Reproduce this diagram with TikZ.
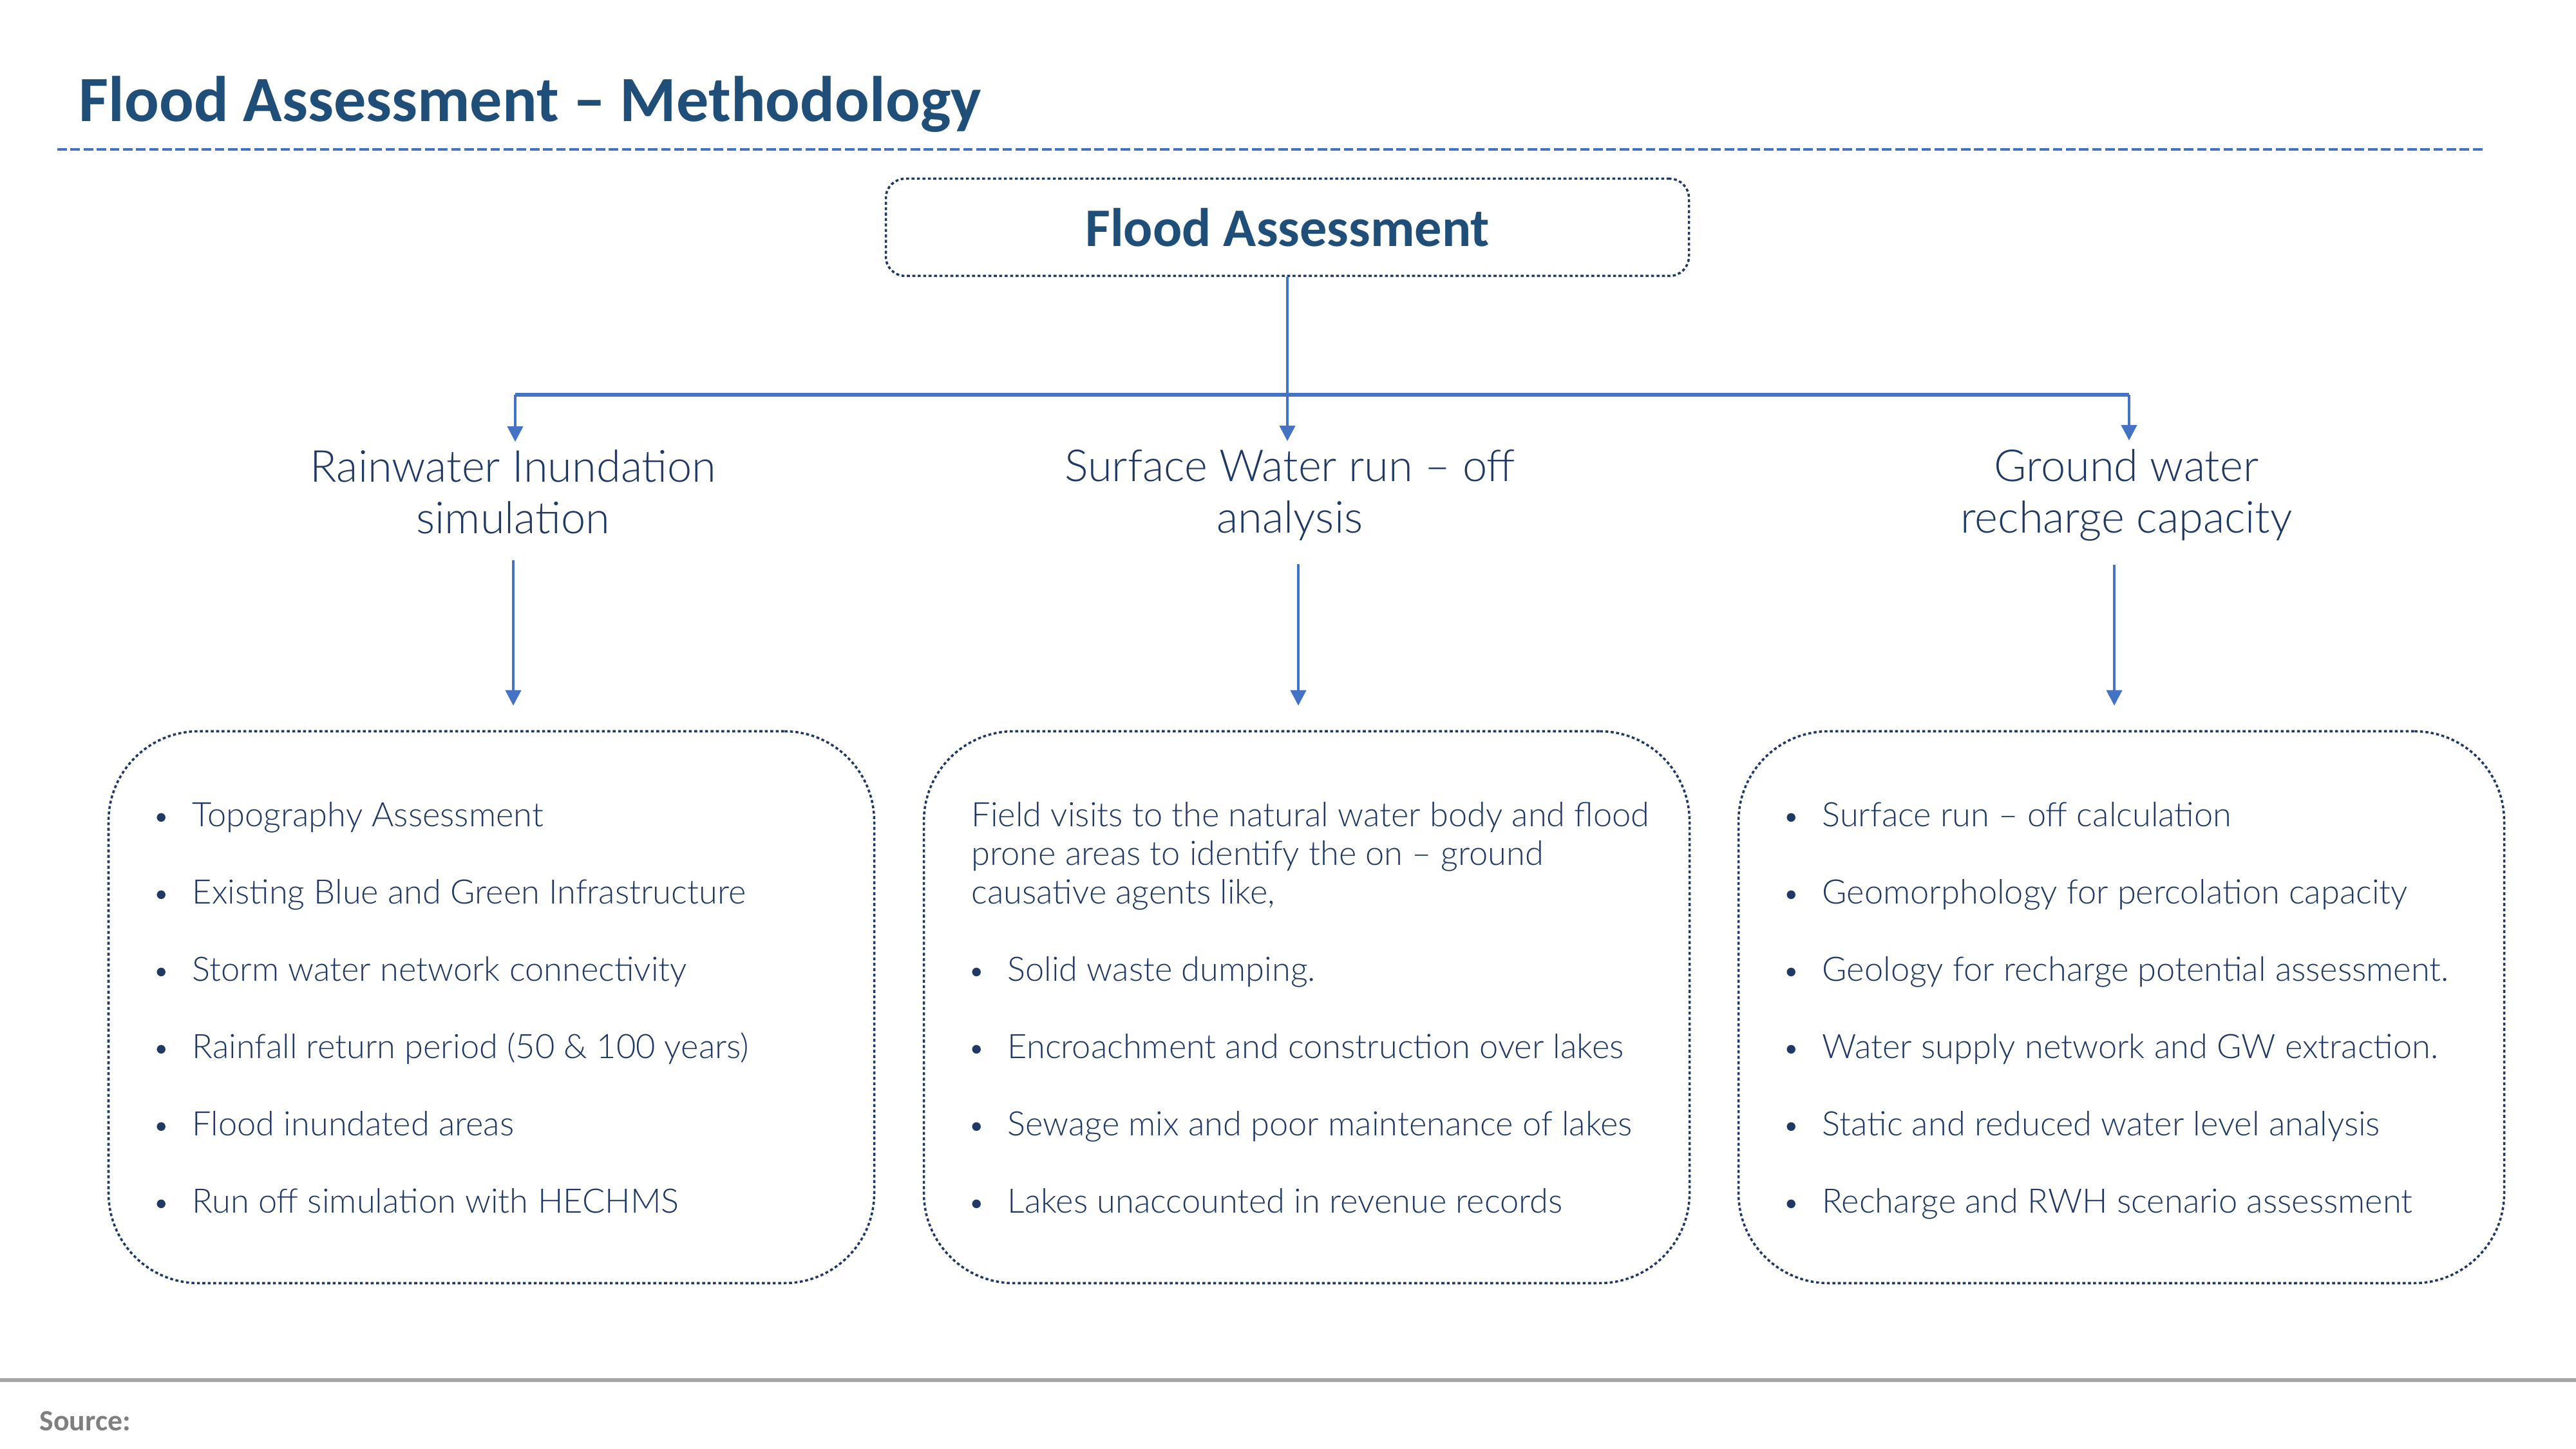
\documentclass[tikz,border=0pt]{standalone}
\usepackage{fontspec}
\usetikzlibrary{arrows.meta}
\newfontfamily\lightfont{Lato Light}
\newfontfamily\headfont{Carlito}
\definecolor{titleblue}{HTML}{1F4E79}
\definecolor{inkblue}{HTML}{1F3864}
\definecolor{lineblue}{HTML}{4472C4}
\definecolor{footgray}{HTML}{A6A6A6}
\definecolor{srcgray}{HTML}{7F7F7F}
\newcommand{\bitem}[1]{\llap{{\fontsize{13}{13}\selectfont\textbullet}\hspace{0.35cm}}#1}
\newcommand{\itemgap}{17.07pt}

\begin{document}
\begin{tikzpicture}[
  headbox/.style={draw=inkblue, line width=1pt, dash pattern=on 1.3pt off 1.1pt,
    rounded corners=0.3cm, minimum width=12.47cm, minimum height=1.51cm,
    font=\headfont\bfseries\fontsize{24}{28}\selectfont, text=titleblue},
  listbox/.style={draw=inkblue, line width=1pt, dash pattern=on 1.3pt off 1.1pt,
    rounded corners=1.4cm, minimum width=11.89cm, minimum height=8.57cm},
  branch/.style={font=\lightfont\fontsize{19.5}{22.8}\selectfont, align=center,
    text=inkblue, inner sep=0},
  bulletlist/.style={font=\lightfont\fontsize{14.9}{17.07}\selectfont, align=left,
    text=inkblue, inner sep=0, anchor=north west},
  link/.style={lineblue, line width=1.2pt},
  feed/.style={link, -{Triangle[length=2.4mm, width=2.4mm]}}
]
  \useasboundingbox (0,0) rectangle (40,-22.5);

  % Title and rule
  \node[anchor=base west, inner sep=0, text=titleblue,
    font=\headfont\bfseries\fontsize{28.5}{32}\selectfont] (title) at (1.22,-1.89)
    {Flood Assessment – Methodology};
  \draw[lineblue, line width=1pt, dash pattern=on 4.2pt off 1.6pt] (0.89,-2.32) -- (38.60,-2.32);

  % Top box
  \node[headbox] (top) at (19.99,-3.53) {Flood Assessment};

  % Three branches
  \node[branch] (rain) at (7.97,-7.64) {Rainwater Inundation\\simulation};
  \node[branch] (surf) at (20.03,-7.69) {Surface Water run – off\\analysis};
  \node[branch] (grnd) at (33.02,-7.69) {Ground water\\recharge capacity};

  \coordinate (hubL) at (8.00,-6.13);
  \coordinate (hubR) at (33.06,-6.13);
  \coordinate (tipL) at (8.00,-6.86);
  \coordinate (tipM) at (20.01,-6.85);
  \coordinate (tipR) at (33.06,-6.84);
  \draw[link, line width=1.5pt] (hubL) -- (hubR);
  \draw[feed] (top.south) -- (top.south |- tipM);
  \draw[feed] (hubL) -- (tipL);
  \draw[feed] (hubR) -- (tipR);

  % Detail boxes
  \node[listbox] (boxA) at (7.63,-15.64) {};
  \node[listbox] (boxB) at (20.29,-15.64) {};
  \node[listbox] (boxC) at (32.94,-15.64) {};

  \draw[feed, shorten <=4mm, shorten >=3.8mm] (rain.south) -- (rain.south |- boxA.north);
  \draw[feed, shorten <=3.6mm, shorten >=3.8mm] ([xshift=1.3mm]surf.south) -- ([xshift=1.3mm]surf.south |- boxB.north);
  \draw[feed, shorten <=3.6mm, shorten >=3.8mm] ([xshift=-1.9mm]grnd.south) -- ([xshift=-1.9mm]grnd.south |- boxC.north);

  \node[bulletlist] (listA) at (2.98,-12.45) {%
    \bitem{Topography Assessment}\\[\itemgap]
    \bitem{Existing Blue and Green Infrastructure}\\[\itemgap]
    \bitem{Storm water network connectivity}\\[\itemgap]
    \bitem{Rainfall return period (50 \& 100 years)}\\[\itemgap]
    \bitem{Flood inundated areas}\\[\itemgap]
    \bitem{Run off simulation with HECHMS}};

  \node[bulletlist] (listB) at (15.08,-12.45) {%
    Field visits to the natural water body and flood\\
    prone areas to identify the on – ground\\
    causative agents like,\\[\itemgap]
    \hspace*{0.56cm}\bitem{Solid waste dumping.}\\[\itemgap]
    \hspace*{0.56cm}\bitem{Encroachment and construction over lakes}\\[\itemgap]
    \hspace*{0.56cm}\bitem{Sewage mix and poor maintenance of lakes}\\[\itemgap]
    \hspace*{0.56cm}\bitem{Lakes unaccounted in revenue records}};

  \node[bulletlist] (listC) at (28.29,-12.45) {%
    \bitem{Surface run – off calculation}\\[\itemgap]
    \bitem{Geomorphology for percolation capacity}\\[\itemgap]
    \bitem{Geology for recharge potential assessment.}\\[\itemgap]
    \bitem{Water supply network and GW extraction.}\\[\itemgap]
    \bitem{Static and reduced water level analysis}\\[\itemgap]
    \bitem{Recharge and RWH scenario assessment}};

  % Footer
  \draw[footgray, line width=1.5pt] (0,-21.43) -- (40,-21.43);
  \node[anchor=west, inner sep=0, text=srcgray,
    font=\headfont\bfseries\fontsize{13}{15}\selectfont] (source) at (0.61,-22.07) {Source:};
\end{tikzpicture}
\end{document}
